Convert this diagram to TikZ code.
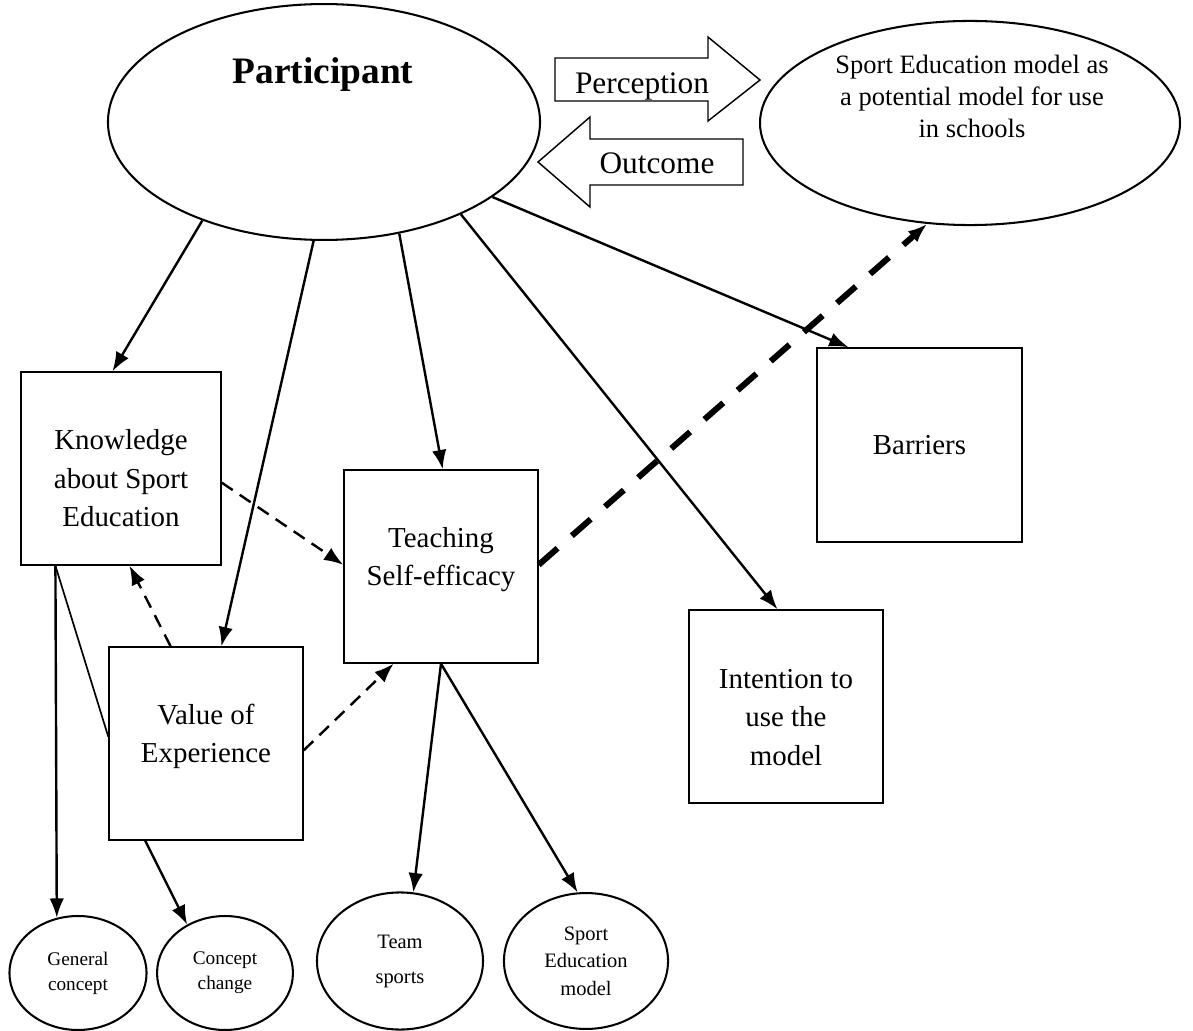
\documentclass[tikz,border=0pt]{standalone}
\usepackage{fontspec}
\setmainfont{Liberation Serif}
\usetikzlibrary{positioning,arrows.meta,shapes.geometric}

\begin{document}
\begin{tikzpicture}[x=0.415pt,y=-0.415pt,
	>={Latex[length=8pt,width=6pt]},
	box/.style={draw,line width=0.6pt,minimum width=80.5pt,minimum height=80.1pt,inner sep=0pt},
	boxtext/.style={inner sep=0pt,align=center,font=\fontsize{12}{16}\selectfont},
	bubble/.style={draw,ellipse,line width=0.85pt,inner sep=0pt,align=center},
	link/.style={->,line width=1pt},
	hint/.style={->,line width=1pt,dash pattern=on 5.5pt off 3.5pt},
	blockarrow/.style={draw,line width=0.6pt,line join=miter}]
	\useasboundingbox (0,0) rectangle (1193,1031);

	\node[bubble,minimum width=179.3pt,minimum height=97.9pt] 
		  (Part) at (324,122) {};
	\node[anchor=base,font=\fontsize{15.5}{18}\selectfont\bfseries] 
		  (PartTxt) at (323,83) {Participant};
	\node[bubble,minimum width=174.3pt,minimum height=84.7pt] 
		  (SEM) at (970,123) {};
	\node[inner sep=0pt,align=center,font=\fontsize{11}{13.3}\selectfont] 
		  (SEMTxt) at (972,96) {Sport Education model as\\a potential model for use\\in schools};

	\draw[blockarrow] (555,58) -- (708,58) -- (708,37) -- (760,80) -- (708,121) -- (708,101) -- (555,101) -- cycle;
	\node[anchor=base,font=\fontsize{13}{15}\selectfont] (Perc) at (642,93) {Perception};
	\draw[blockarrow] (743,139) -- (590,139) -- (590,117) -- (538,162) -- (590,207) -- (590,185) -- (743,185) -- cycle;
	\node[anchor=base,font=\fontsize{13}{15}\selectfont] (Outc) at (657,173) {Outcome};

	\node[box,minimum width=83pt] (Know) at (121,468.5) {};
	\node[boxtext] (KnowTxt) at (121,478.5) {Knowledge\\about Sport\\Education};
	\node[box] (Val) at (206,743.5) {};
	\node[boxtext] (ValTxt) at (206,736.5) {Value of\\Experience};
	\node[box] (Teach) at (441,566.5) {};
	\node[boxtext] (TeachTxt) at (441,559.5) {Teaching\\Self-efficacy};
	\node[box] (Intent) at (786,706.5) {};
	\node[boxtext] (IntentTxt) at (786,717.5) {Intention to\\use the\\model};
	\node[box,minimum width=85.1pt,minimum height=80.5pt,
		  font=\fontsize{12}{16}\selectfont] 
		  (Barr) at (919.5,445) {Barriers};

	\node[bubble,minimum width=56.9pt,minimum height=47.3pt,
		  font=\fontsize{8}{10.4}\selectfont] 
		  (Gen) at (78,973) {General\\concept};
	\node[bubble,minimum width=56.4pt,minimum height=47.3pt,
		  font=\fontsize{8}{10.4}\selectfont] 
		  (Chg) at (225,973) {Concept\\change};
	\node[bubble,minimum width=68.9pt,minimum height=56.9pt,
		  font=\fontsize{8.5}{14.5}\selectfont] 
		  (Team) at (400,961) {Team\\sports};
	\node[bubble,minimum width=68.1pt,minimum height=56.4pt,
		  font=\fontsize{8.5}{11.4}\selectfont] 
		  (SEmod) at (586,961) {Sport\\Education\\model};

	\draw[link] (Part.219) -- (Know.95);
	\draw[link] (Part.265) -- (Val.81);
	\draw[link] (Part.304) -- (Teach.89);
	\draw[link] (Part.326) -- (Intent.95);
	\draw[link] (Part.336) -- (Barr.126);
	\draw[link] (Teach.270) -- (Team.79);
	\draw[link] (Teach.270) -- (SEmod.97);
	\draw[link] (Val.238) -- (Chg.128);
	\draw[link] (Know.236) -- (Gen.111);
	\draw[line width=0.7pt] (Know.236) -- (Val.176);
	\draw[hint] (Know.352) -- (Teach.179);
	\draw[hint] (Val.110) -- (Know.275);
	\draw[hint] (Val.356) -- (Teach.244);
	\draw[->,line width=2.5pt,dash pattern=on 10.4pt off 7.9pt] (Teach.1) -- (SEM.247);
\end{tikzpicture}
\end{document}
